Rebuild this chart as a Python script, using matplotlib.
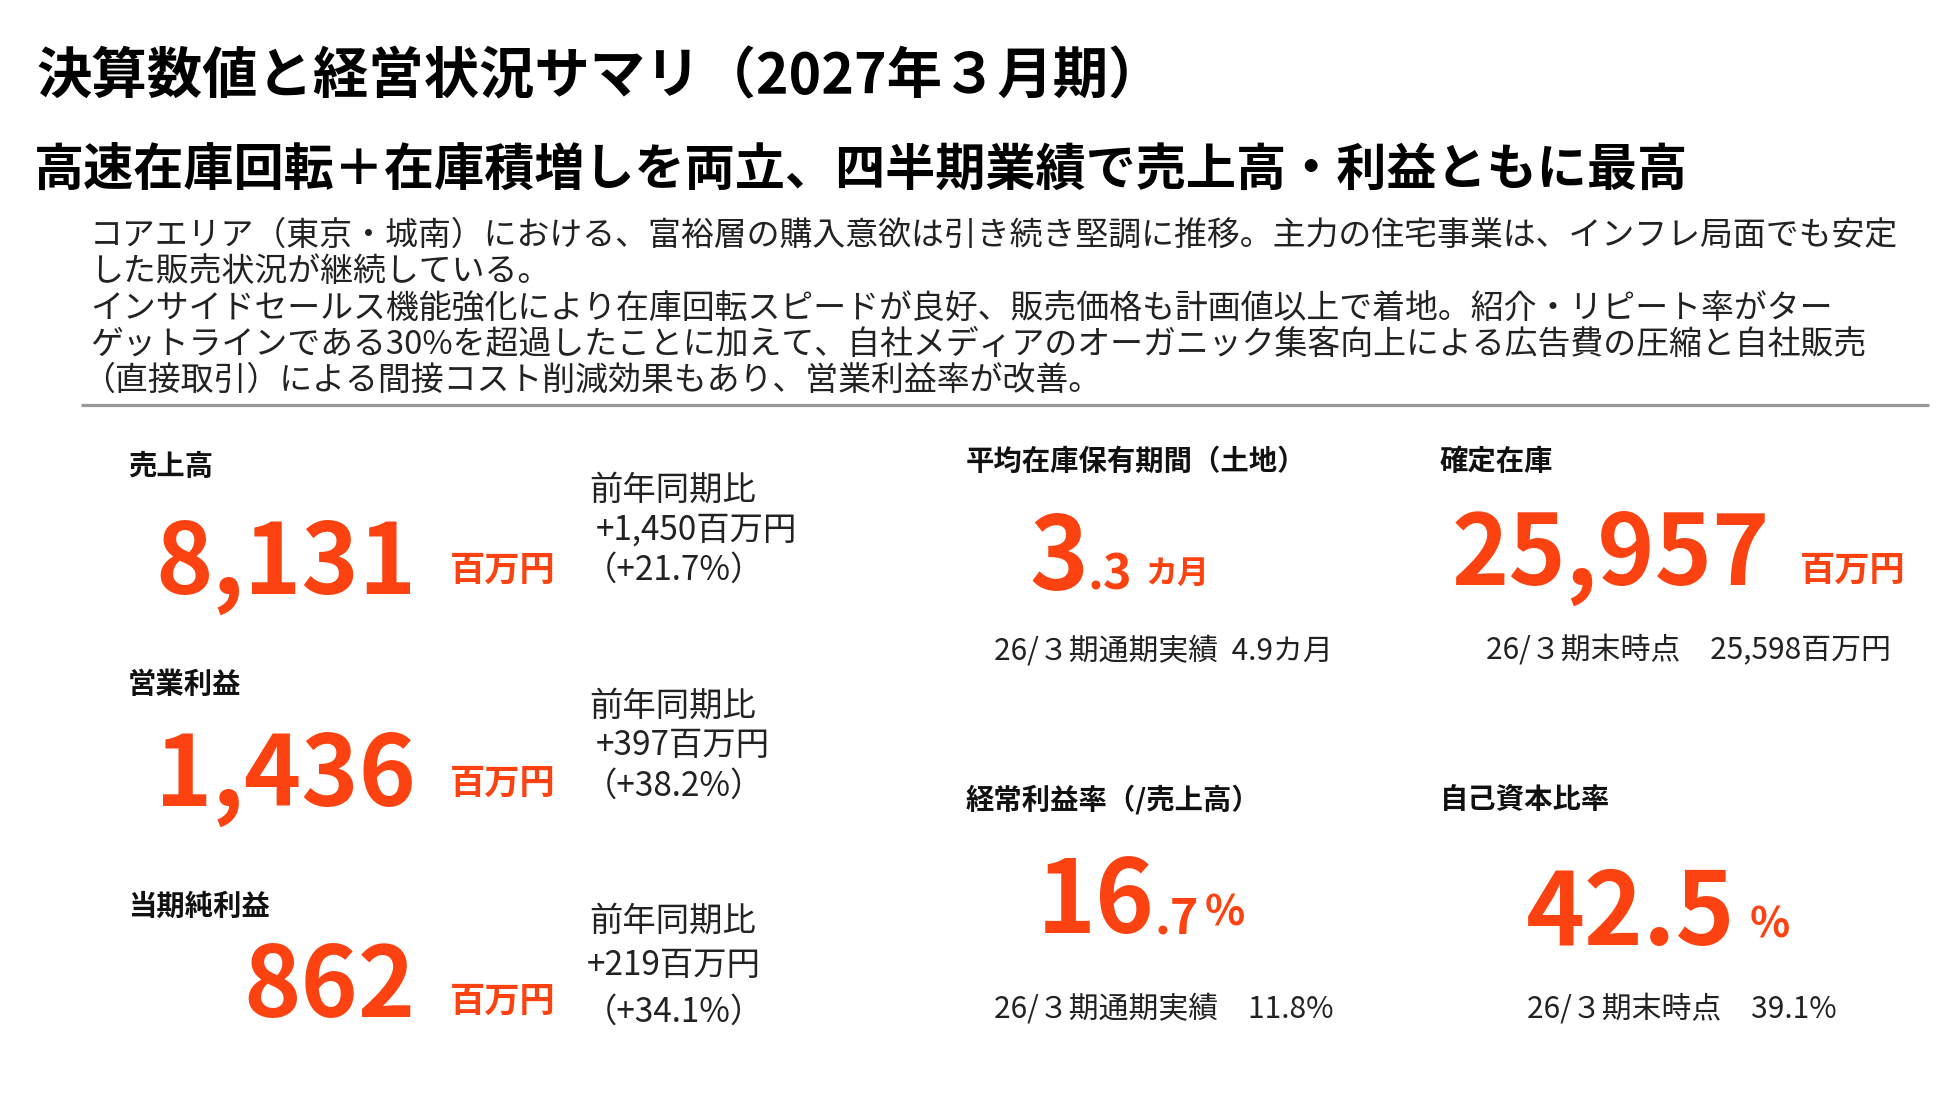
import matplotlib
matplotlib.use("Agg")
import matplotlib.pyplot as plt

plt.rcParams['font.family'] = ['Noto Sans CJK JP', 'DejaVu Sans']

ORANGE = '#FC4210'
DARK = '#111111'
GRAY = '#222222'

title = "決算数値と経営状況サマリ（2027年３月期）"
subtitle = "高速在庫回転＋在庫積増しを両立、四半期業績で売上高・利益ともに最高"
body_lines = [
    "コアエリア（東京・城南）における、富裕層の購入意欲は引き続き堅調に推移。主力の住宅事業は、インフレ局面でも安定",
    "した販売状況が継続している。",
    "インサイドセールス機能強化により在庫回転スピードが良好、販売価格も計画値以上で着地。紹介・リピート率がター",
    "ゲットラインである30%を超過したことに加えて、自社メディアのオーガニック集客向上による広告費の圧縮と自社販売",
    "（直接取引）による間接コスト削減効果もあり、営業利益率が改善。",
]

# 左側：業績 (百万円)
pl_labels = ["売上高", "営業利益", "当期純利益"]
pl_values = ["8,131", "1,436", "862"]
pl_yoy_abs = ["+1,450百万円", "+397百万円", "+219百万円"]
pl_yoy_pct = ["（+21.7%）", "（+38.2%）", "（+34.1%）"]

# 右側：KPI
kpi_labels = ["平均在庫保有期間（土地）", "確定在庫", "経常利益率（/売上高）", "自己資本比率"]
kpi_main = ["3", "25,957", "16", "42.5"]
kpi_frac = [".3", "", ".7", ""]
kpi_unit = ["カ月", "百万円", "%", "%"]
kpi_prev = ["26/３期通期実績  4.9カ月", "26/３期末時点　25,598百万円",
            "26/３期通期実績　11.8%", "26/３期末時点　39.1%"]

fig = plt.figure(figsize=(19.5, 11.03), dpi=100)
ax = fig.add_axes([0, 0, 1, 1])
ax.set_xlim(0, 1950)
ax.set_ylim(1103, 0)
ax.axis('off')

# ヘッダー
ax.text(36, 77, title, fontsize=39.9, fontweight='bold', color='black', va='center')
ax.text(34, 171, subtitle, fontsize=36.1, fontweight='bold', color='black', va='center')
for i, line in enumerate(body_lines):
    x = 82 if line.startswith("（") else 90
    ax.text(x, 236 + i * 36.3, line, fontsize=23.7, color=GRAY, va='center')
ax.plot([81, 1929], [405, 405], color='#9a9a9a', lw=2.3, solid_capstyle='butt')

# 左側
label_y = [467, 685, 907]
num_base = [594, 806, 1017]
unit_y = [570, 783, 1001]
cmp_y = [[490, 530, 570], [706, 746, 786], [921, 966, 1012]]
abs_x = [596, 596, 587]
for i in range(3):
    ax.text(128, label_y[i], pl_labels[i], fontsize=20.4, fontweight='bold', color=DARK, va='center')
    ax.text(416, num_base[i], pl_values[i], fontsize=70, fontweight='bold', color=ORANGE,
            ha='right', va='baseline')
    ax.text(450, unit_y[i], "百万円", fontsize=25.4, fontweight='bold', color=ORANGE, va='center')
    ax.text(589, cmp_y[i][0], "前年同期比", fontsize=24, color=GRAY, va='center')
    ax.text(abs_x[i], cmp_y[i][1], pl_yoy_abs[i], fontsize=24, color=GRAY, va='center')
    ax.text(584, cmp_y[i][2], pl_yoy_pct[i], fontsize=24, color=GRAY, va='center')

# 右側
kx = [966, 1440, 966, 1440]
ky = [462, 462, 800, 800]
main_x = [1029, 1452, 1037, 1526]
main_base = [590, 585, 933, 945]
main_fs = [72, 70, 72, 72]
unit_x = [1145, 1800, 1205, 1750]
unit_y = [574, 570, 914, 925]
unit_fs = [23, 25.4, 30, 30]
prev_x = [994, 1486, 994, 1527]
prev_y = [651, 651, 1009, 1009]

fig.canvas.draw()
r = fig.canvas.get_renderer()
inv = ax.transData.inverted()


def right_edge(t):
    bb = t.get_window_extent(renderer=r)
    return inv.transform((bb.x1, bb.y0))[0]


for i in range(4):
    ax.text(kx[i], ky[i], kpi_labels[i], fontsize=20.4, fontweight='bold', color=DARK, va='center')
    t = ax.text(main_x[i], main_base[i], kpi_main[i], fontsize=main_fs[i], fontweight='bold',
                color=ORANGE, va='baseline')
    if kpi_frac[i]:
        ax.text(right_edge(t), main_base[i], kpi_frac[i], fontsize=35, fontweight='bold',
                color=ORANGE, va='baseline')
    ax.text(unit_x[i], unit_y[i], kpi_unit[i], fontsize=unit_fs[i],
            fontweight='bold', color=ORANGE, va='center')
    ax.text(prev_x[i], prev_y[i], kpi_prev[i], fontsize=21.5, color=GRAY, va='center')

fig.savefig("out.png", dpi=100, facecolor='white')
